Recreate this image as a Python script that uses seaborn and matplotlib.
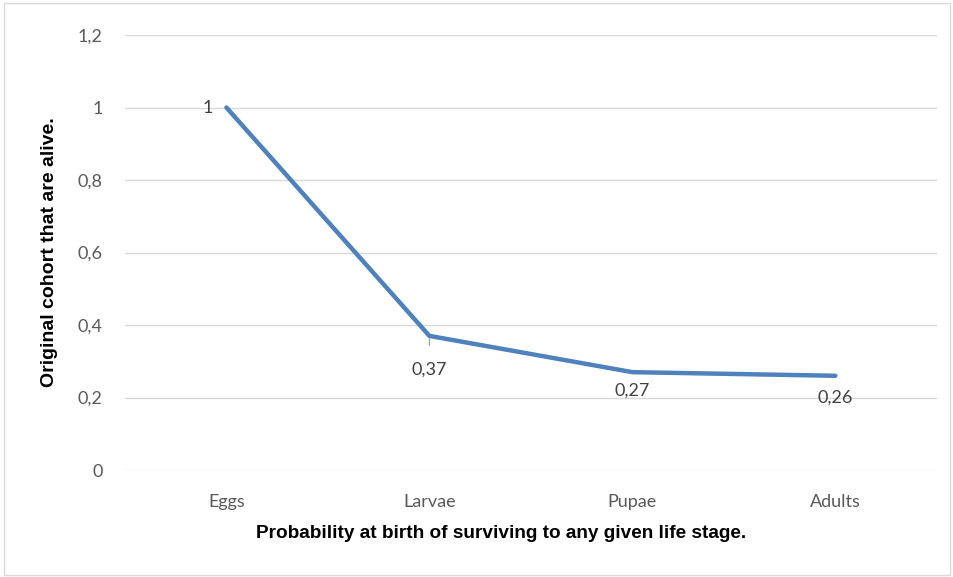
import matplotlib
matplotlib.use("Agg")
import matplotlib.pyplot as plt
import seaborn as sns
import pandas as pd
from matplotlib.patches import Rectangle

stages = ["Eggs", "Larvae", "Pupae", "Adults"]
survival = [1.0, 0.37, 0.27, 0.26]
yticks = [0, 0.2, 0.4, 0.6, 0.8, 1.0, 1.2]
label_offsets = [(-10, 0), (0, -24), (0, -13), (0, -16)]

sns.set_theme(style="white")
plt.rcParams['font.family'] = ['Lato', 'DejaVu Sans']

df = pd.DataFrame({"stage": stages, "value": survival})

fig = plt.figure(figsize=(9.54, 5.77), dpi=100)
ax = fig.add_axes([0.131, 0.1854, 0.851, 0.7539])

sns.lineplot(data=df, x="stage", y="value", ax=ax, color="#4F81BD",
             linewidth=3.2, sort=False, solid_capstyle="round")

ax.set_xlim(-0.5, 3.5)
ax.set_ylim(0, 1.2)
ax.set_yticks(yticks)
ax.set_yticklabels([f"{t:g}".replace(".", ",") for t in yticks])
ax.grid(axis="y", color="#d9d9d9", linewidth=1)
ax.set_axisbelow(True)
for s in ax.spines.values():
    s.set_visible(False)
ax.tick_params(axis="both", length=0, labelsize=13, labelcolor="#595959")
ax.tick_params(axis="y", pad=16)
ax.tick_params(axis="x", pad=17)

ax.set_xlabel("Probability at birth of surviving to any given life stage.",
              fontfamily="Liberation Sans", fontweight="bold", fontsize=13.7,
              color="black", labelpad=11)
ax.xaxis.label.set_x(0.463)
ax.set_ylabel("Original cohort that are alive.",
              fontfamily="Liberation Sans", fontweight="bold", fontsize=14,
              color="black", labelpad=14)

for i, (st, v) in enumerate(zip(stages, survival)):
    txt = f"{v:g}".replace(".", ",")
    dx, dy = label_offsets[i]
    ha = "right" if dx < 0 else "center"
    if i == 1:
        ax.annotate(txt, xy=(i, v), xytext=(dx, dy), textcoords="offset points",
                    ha=ha, va="center", fontsize=13, color="#404040",
                    arrowprops=dict(arrowstyle="-", color="#a6a6a6", lw=1,
                                    shrinkA=9, shrinkB=2))
    else:
        ax.annotate(txt, xy=(i, v), xytext=(dx, dy), textcoords="offset points",
                    ha=ha, va="center", fontsize=13, color="#404040")

fig.patches.append(Rectangle((0.004, 0.004), 0.992, 0.99, transform=fig.transFigure,
                             fill=False, edgecolor="#d9d9d9", linewidth=1))

fig.savefig("out.png", dpi=100)
